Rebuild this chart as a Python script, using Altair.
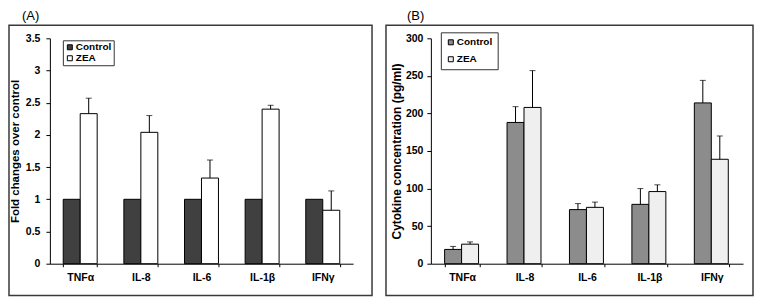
import altair as alt
import pandas as pd

cats = ["TNFα", "IL-8", "IL-6", "IL-1β", "IFNγ"]
groups = ["Control", "ZEA"]

# Panel A: fold change over control
a_control = [1, 1, 1, 1, 1]
a_control_sd = [0, 0, 0, 0, 0]
a_zea = [2.33, 2.04, 1.33, 2.40, 0.83]
a_zea_sd = [0.24, 0.26, 0.28, 0.06, 0.30]
a_ticks = [0, 0.5, 1, 1.5, 2, 2.5, 3, 3.5]

# Panel B: cytokine concentration (pg/ml)
b_control = [19, 188, 72, 79, 214]
b_control_sd = [4, 21, 8, 21, 30]
b_zea = [26, 208, 75, 96, 139]
b_zea_sd = [3, 49, 7, 9, 31]
b_ticks = [0, 50, 100, 150, 200, 250, 300]

FONT = "Liberation Sans"


def make_df(ctrl, ctrl_sd, zea, zea_sd):
    rows = []
    for i, c in enumerate(cats):
        rows.append(dict(cat=c, grp="Control", val=ctrl[i], top=ctrl[i] + ctrl_sd[i], sd=ctrl_sd[i]))
        rows.append(dict(cat=c, grp="ZEA", val=zea[i], top=zea[i] + zea_sd[i], sd=zea_sd[i]))
    return pd.DataFrame(rows)


def panel(df, width, ticks, ytitle, ytitle_size, colors, tag, leg, frame, tag_x,
          label_pad, title_pad):
    base = alt.Chart(df)
    xaxis = alt.Axis(title=None, labelAngle=0, tickBand="extent", tickSize=3,
                     labelPadding=6, labelFont=FONT, labelFontWeight="bold",
                     labelFontSize=10.5, labelColor="black", domainColor="black",
                     tickColor="black", grid=False)
    x = alt.X("cat:N", sort=cats,
              scale=alt.Scale(paddingInner=0.44, paddingOuter=0.22), axis=xaxis)
    xo = alt.XOffset("grp:N", sort=groups,
                     scale=alt.Scale(paddingInner=0, paddingOuter=0))
    yscale = alt.Scale(domain=[ticks[0], ticks[-1]], nice=False)
    yaxis = alt.Axis(values=ticks, labelExpr="'' + datum.value", grid=False,
                     tickSize=4, labelPadding=label_pad, labelFont=FONT,
                     labelFontWeight="bold", labelFontSize=10.5, labelColor="black",
                     domainColor="black", tickColor="black", titleFont=FONT,
                     titleFontWeight="bold", titleFontSize=ytitle_size,
                     titleColor="black", titlePadding=title_pad, labelOverlap=False)
    bars = base.mark_bar(stroke="black", strokeWidth=1).encode(
        x=x, xOffset=xo,
        y=alt.Y("val:Q", scale=yscale, axis=yaxis, title=ytitle),
        fill=alt.Fill("grp:N", scale=alt.Scale(domain=groups, range=colors),
                      title=None, legend=leg),
    )
    err = base.transform_filter("datum.sd > 0").mark_rule(color="black", strokeWidth=1).encode(
        x=x, xOffset=xo,
        y=alt.Y("val:Q", scale=yscale, axis=yaxis, title=ytitle), y2="top:Q",
    )
    cap = base.transform_filter("datum.sd > 0").mark_tick(
        color="black", size=6, thickness=1, orient="horizontal").encode(
        x=x, xOffset=xo, y=alt.Y("top:Q", scale=yscale, axis=yaxis, title=ytitle),
    )
    one = alt.Chart(pd.DataFrame({"k": [0]}))
    box = one.mark_rect(fill="white", fillOpacity=0, stroke="#3a3a3a", strokeWidth=1.5).encode(
        x=alt.value(frame[0]), x2=alt.value(frame[1]),
        y=alt.value(frame[2]), y2=alt.value(frame[3]),
    )
    label = one.mark_text(text=tag, font=FONT, fontSize=13, align="left",
                          baseline="top", color="black").encode(
        x=alt.value(tag_x), y=alt.value(-28))
    return alt.layer(box, bars, err, cap, label).properties(width=width, height=226)


def legend(x, y, pad, rowpad):
    return alt.Legend(orient="none", legendX=x, legendY=y, strokeColor="#333333",
                      fillColor="white", padding=pad, rowPadding=rowpad,
                      symbolType="square", symbolSize=25, symbolStrokeColor="black",
                      symbolStrokeWidth=1, labelFont=FONT, labelFontWeight="bold",
                      labelFontSize=10, labelColor="black", labelOffset=1,
                      cornerRadius=0)


dfa = make_df(a_control, a_control_sd, a_zea, a_zea_sd)
dfb = make_df(b_control, b_control_sd, b_zea, b_zea_sd)

pa = panel(dfa, 304, a_ticks, "Fold changes over control", 11.5,
           ["#404040", "#ffffff"], "(A)", legend(13, 2, 2, 1),
           (-41, 323, -13, 258), -28, 6, 5)
pb = panel(dfb, 313, b_ticks, "Cytokine concentration (pg/ml)", 12,
           ["#8c8c8c", "#efefef"], "(B)", legend(10, -6, 5, 7),
           (-45, 323, -13, 258), -24, 4, 2)

chart = alt.hconcat(pa, pb, spacing=12).resolve_scale(
    fill="independent", y="independent", x="independent"
).properties(padding={"left": 0, "top": 2, "right": 0, "bottom": 0}).configure_view(stroke=None)

chart.save("out.html", embed_options={"renderer": "svg", "actions": False})
